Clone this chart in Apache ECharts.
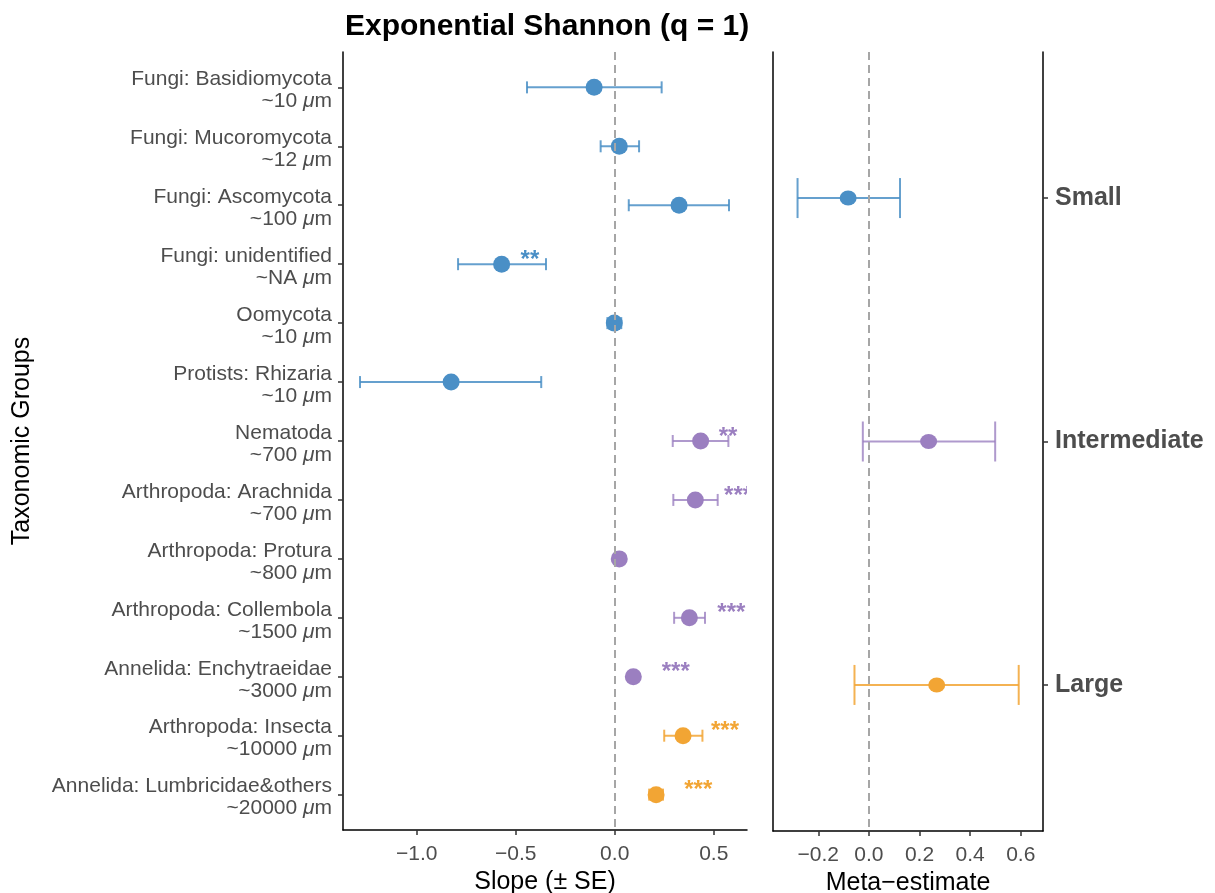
<!DOCTYPE html>
<html>
<head>
<meta charset="utf-8">
<title>Exponential Shannon (q = 1)</title>
<script src="https://cdn.jsdelivr.net/npm/echarts@6/dist/echarts.min.js"></script>
<style>
html, body { margin: 0; padding: 0; background: #fff; }
#chart { width: 1215px; height: 893px; }
</style>
</head>
<body>
<div id="chart"></div>
<script>
// taxonomic groups, top to bottom
var groups = [
  "Fungi: Basidiomycota", "Fungi: Mucoromycota", "Fungi: Ascomycota",
  "Fungi: unidentified", "Oomycota", "Protists: Rhizaria", "Nematoda",
  "Arthropoda: Arachnida", "Arthropoda: Protura", "Arthropoda: Collembola",
  "Annelida: Enchytraeidae", "Arthropoda: Insecta", "Annelida: Lumbricidae&others"
];
var sizes = ["~10", "~12", "~100", "~NA", "~10", "~10", "~700", "~700", "~800", "~1500", "~3000", "~10000", "~20000"];
// 0 = Small, 1 = Intermediate, 2 = Large
var sizeClass = [0, 0, 0, 0, 0, 0, 1, 1, 1, 1, 1, 2, 2];
var slope = [-0.104, 0.023, 0.325, -0.571, -0.002, -0.826, 0.434, 0.407, 0.023, 0.377, 0.094, 0.345, 0.209];
var slopeLow = [-0.443, -0.071, 0.071, -0.791, -0.037, -1.286, 0.293, 0.296, 0.013, 0.300, 0.084, 0.250, 0.174];
var slopeHigh = [0.237, 0.123, 0.577, -0.347, 0.033, -0.371, 0.574, 0.520, 0.033, 0.456, 0.104, 0.443, 0.244];
var sigText = ["", "", "", "**", "", "", "**", "***", "", "***", "***", "***", "***"];
var sigX = [null, null, null, -0.428, null, null, 0.572, 0.623, null, 0.589, 0.308, 0.557, 0.422];

// meta-estimates per size class
var classes = ["Small", "Intermediate", "Large"];
var metaEst = [-0.082, 0.236, 0.268];
var metaLow = [-0.282, -0.024, -0.057];
var metaHigh = [0.123, 0.499, 0.592];

var slopeTicks = [-1.0, -0.5, 0.0, 0.5];
var metaTicks = [-0.2, 0.0, 0.2, 0.4, 0.6];

var palette = ["#4a8fc6", "#9b7fc0", "#f2a534"];
var barPalette = ["rgba(74,143,198,0.85)", "rgba(155,127,192,0.8)", "rgba(242,165,52,0.85)"];
var font = '"Liberation Sans", Arial, Helvetica, sans-serif';
var axisGrey = "#4d4d4d";

function fmtTick(v) {
  return v.toFixed(1).replace("-", "\u2212");
}

function indices(arr) {
  return arr.map(function (d, i) { return i; });
}

function errorBars(capHalf) {
  return function (params, api) {
    var a = api.coord([api.value(0), api.value(2)]);
    var b = api.coord([api.value(1), api.value(2)]);
    var style = { stroke: barPalette[api.value(3)], lineWidth: 2 };
    return {
      type: "group",
      children: [
        { type: "line", shape: { x1: a[0], y1: a[1], x2: b[0], y2: b[1] }, style: style },
        { type: "line", shape: { x1: a[0], y1: a[1] - capHalf, x2: a[0], y2: a[1] + capHalf }, style: style },
        { type: "line", shape: { x1: b[0], y1: b[1] - capHalf, x2: b[0], y2: b[1] + capHalf }, style: style }
      ]
    };
  };
}

var slopeBarData = [], slopePointData = [], starData = [];
for (var i = 0; i < groups.length; i++) {
  slopeBarData.push([slopeLow[i], slopeHigh[i], i, sizeClass[i]]);
  slopePointData.push({ value: [slope[i], i], itemStyle: { color: palette[sizeClass[i]], opacity: 1 } });
  if (sigText[i]) starData.push([sigX[i], i, sizeClass[i], sigText[i]]);
}
var metaBarData = [], metaPointData = [];
for (var k = 0; k < classes.length; k++) {
  metaBarData.push([metaLow[k], metaHigh[k], k, k]);
  metaPointData.push({ value: [metaEst[k], k], itemStyle: { color: palette[k], opacity: 1 } });
}

var zeroLine = {
  silent: true,
  symbol: "none",
  label: { show: false },
  lineStyle: { color: "#a6a6a6", type: [8, 5], width: 2 },
  data: [{ xAxis: 0 }]
};

var axisLineStyle = { show: true, onZero: false, lineStyle: { color: "#000", width: 1.5 } };

var chart = echarts.init(document.getElementById("chart"));
var option = {
  animation: false,
  textStyle: { fontFamily: font },
  title: {
    text: "Exponential Shannon (q = 1)",
    left: 340,
    top: 7,
    textStyle: { fontSize: 30, fontWeight: "bold", color: "#000", fontFamily: font }
  },
  grid: [
    { left: 343, top: 52, width: 404, height: 778, outerBoundsMode: "none", containLabel: false },
    { left: 773, top: 52, width: 270, height: 779, outerBoundsMode: "none", containLabel: false }
  ],
  xAxis: [
    {
      gridIndex: 0,
      type: "value",
      min: -1.372,
      max: 0.668,
      splitLine: { show: false },
      axisLine: axisLineStyle,
      axisTick: { show: true, length: 5, customValues: slopeTicks, lineStyle: { color: "#333", width: 1.5 } },
      axisLabel: { customValues: slopeTicks, formatter: fmtTick, fontSize: 21, color: axisGrey, margin: 14 },
      name: "Slope (\u00b1 SE)",
      nameLocation: "middle",
      nameGap: 36,
      nameTextStyle: { fontSize: 25, color: "#000" }
    },
    {
      gridIndex: 1,
      type: "value",
      min: -0.379,
      max: 0.688,
      splitLine: { show: false },
      axisLine: axisLineStyle,
      axisTick: { show: true, length: 5, customValues: metaTicks, lineStyle: { color: "#333", width: 1.5 } },
      axisLabel: { customValues: metaTicks, formatter: fmtTick, fontSize: 21, color: axisGrey, margin: 14 },
      name: "Meta\u2212estimate",
      nameLocation: "middle",
      nameGap: 36,
      nameTextStyle: { fontSize: 25, color: "#000" }
    }
  ],
  yAxis: [
    {
      gridIndex: 0,
      type: "value",
      inverse: true,
      min: -0.6,
      max: groups.length - 1 + 0.6,
      splitLine: { show: false },
      axisLine: axisLineStyle,
      axisTick: { show: true, length: 5, customValues: indices(groups), lineStyle: { color: "#333", width: 1.5 } },
      axisLabel: {
        customValues: indices(groups),
        fontSize: 21,
        color: axisGrey,
        margin: 11,
        lineHeight: 22,
        padding: [6, 0, 0, 0],
        align: "right",
        formatter: function (value) {
          return groups[value] + "\n" + sizes[value] + " {i|\u03bc}m";
        },
        rich: {
          i: { fontStyle: "italic", fontSize: 21, color: axisGrey, lineHeight: 22 }
        }
      },
      name: "Taxonomic Groups",
      nameLocation: "middle",
      nameRotate: 90,
      nameGap: 308,
      nameTextStyle: { fontSize: 25, color: "#000" }
    },
    {
      gridIndex: 1,
      type: "value",
      inverse: true,
      position: "right",
      min: -0.6,
      max: classes.length - 1 + 0.6,
      splitLine: { show: false },
      axisLine: axisLineStyle,
      axisTick: { show: true, length: 5, customValues: indices(classes), lineStyle: { color: "#333", width: 1.5 } },
      axisLabel: {
        customValues: indices(classes),
        formatter: function (value) { return classes[value]; },
        fontSize: 25, fontWeight: "bold", color: axisGrey, margin: 12
      }
    },
    {
      // left border of the meta panel
      gridIndex: 1,
      type: "value",
      inverse: true,
      position: "left",
      min: -0.6,
      max: classes.length - 1 + 0.6,
      splitLine: { show: false },
      axisLine: axisLineStyle,
      axisTick: { show: false },
      axisLabel: { show: false }
    }
  ],
  series: [
    {
      type: "custom",
      xAxisIndex: 0,
      yAxisIndex: 0,
      renderItem: errorBars(6),
      encode: { x: [0, 1], y: 2 },
      data: slopeBarData,
      markLine: zeroLine,
      z: 2
    },
    {
      type: "scatter",
      xAxisIndex: 0,
      yAxisIndex: 0,
      symbolSize: 17,
      itemStyle: { opacity: 1 },
      data: slopePointData,
      z: 3
    },
    {
      type: "custom",
      xAxisIndex: 0,
      yAxisIndex: 0,
      clip: true,
      renderItem: function (params, api) {
        var p = api.coord([api.value(0), api.value(1)]);
        var item = starData[params.dataIndex];
        return {
          type: "text",
          x: p[0],
          y: p[1] - 4,
          style: {
            text: item[3],
            fill: palette[item[2]],
            font: "bold 24px " + font,
            align: "center",
            verticalAlign: "middle"
          }
        };
      },
      encode: { x: 0, y: 1 },
      data: starData,
      z: 4
    },
    {
      type: "custom",
      xAxisIndex: 1,
      yAxisIndex: 1,
      renderItem: errorBars(20),
      encode: { x: [0, 1], y: 2 },
      data: metaBarData,
      markLine: zeroLine,
      z: 2
    },
    {
      type: "scatter",
      xAxisIndex: 1,
      yAxisIndex: 1,
      symbolSize: [17, 15],
      itemStyle: { opacity: 1 },
      data: metaPointData,
      z: 3
    }
  ]
};
chart.setOption(option);
</script>
</body>
</html>
